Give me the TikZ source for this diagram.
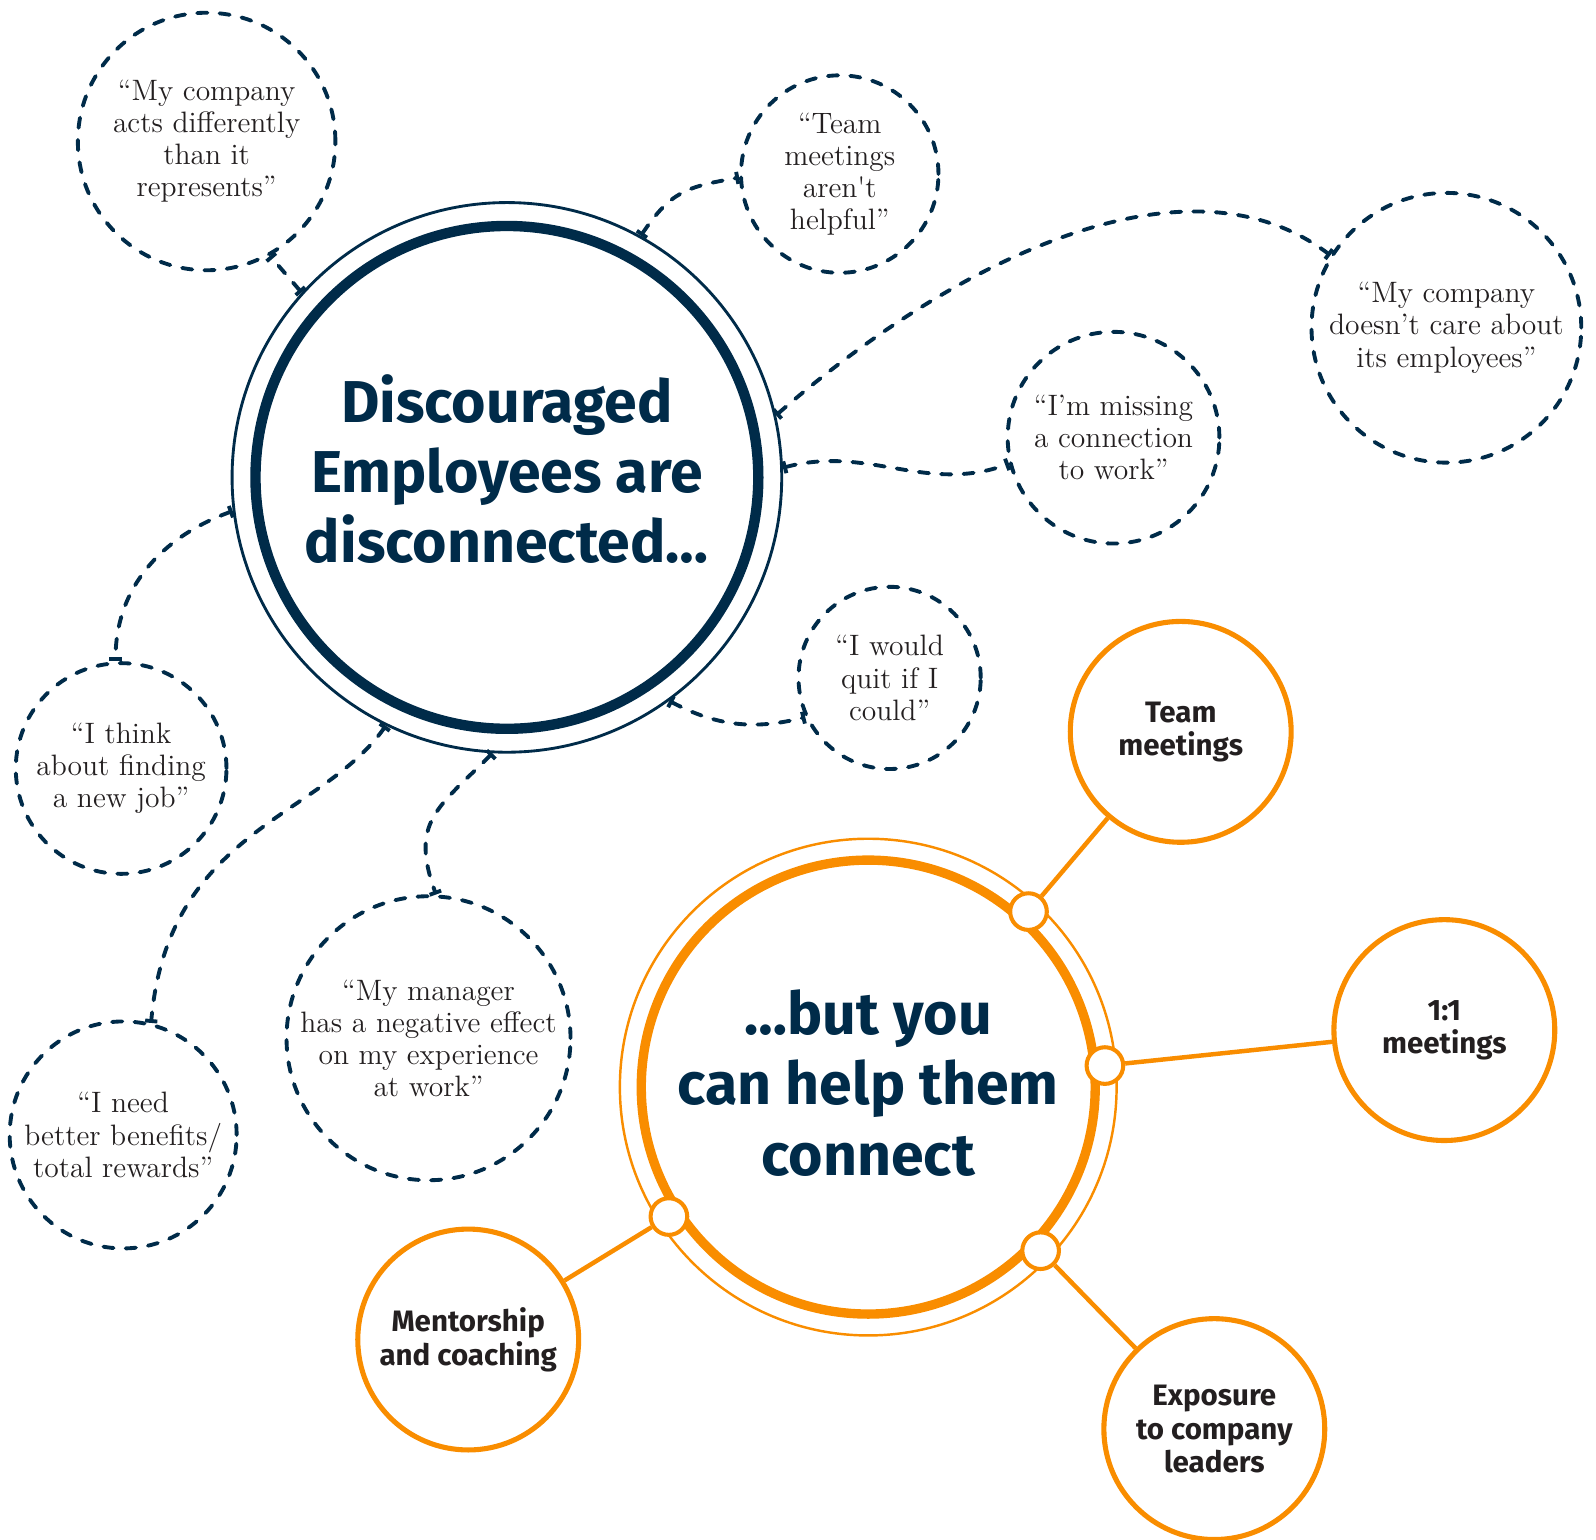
\documentclass[tikz,border=0pt]{standalone}
\usepackage{fontspec}
\newfontfamily\headfont{Fira Sans}
\usepackage{tikz}
\usetikzlibrary{arrows.meta}
\definecolor{navy}{HTML}{002B49}
\definecolor{tangerine}{HTML}{F98D00}
\definecolor{ink}{HTML}{231F20}
\tikzset{
        base/.style={circle, inner sep=-10pt, align=center},
        hub/.style={base, text=navy, font=\headfont\bfseries\fontsize{29}{34.5}\selectfont},
        discouter/.style={hub, draw=navy, line width=1.4pt, minimum size=270pt},
        discinner/.style={base, draw=navy, line width=5.1pt, minimum size=247pt},
        helpouter/.style={hub, draw=tangerine, line width=1.2pt, minimum size=244pt},
        helpinner/.style={base, draw=tangerine, line width=4.6pt, minimum size=223pt},
        quote/.style={base, draw=navy, line width=1.9pt, dash pattern=on 5pt off 6pt,
                      line cap=round, text=ink, font=\fontsize{14.5}{15.75}\selectfont},
        leaf/.style={base, draw=tangerine, line width=2.5pt, minimum size=108.5pt,
                     text=ink, font=\headfont\bfseries\fontsize{14.5}{16.5}\selectfont},
        joint/.style={circle, draw=tangerine, fill=white, line width=2pt,
                      minimum size=18pt, inner sep=0pt},
        quoteline/.style={draw=navy, line width=1.9pt, dash pattern=on 5pt off 6pt,
                          line cap=round, arrows={Bar[width=6pt]-Bar[width=6pt]}},
        leafline/.style={draw=tangerine, line width=2.2pt},
 }

\begin{document}
\begin{tikzpicture}[x=0.5pt, y=0.5pt]
    \useasboundingbox (0,0) rectangle (1568,-1512);

    % discouraged side
    \node[discouter] (disc) at (498,-469) {};
    \node[discinner] (discin) at (disc) {};
    \node[hub] (disctext) at ([yshift=4pt]disc.center) {Discouraged\\ Employees are\\ disconnected…};

    \node[quote, minimum size=126.5pt] (q1) at (203,-139) {“My company\\ acts differently\\ than it\\ represents”};
    \node[quote, minimum size=97pt] (q2) at (825,-171) {“Team\\ meetings\\ aren\textquotesingle t\\ helpful”};
    \node[quote, minimum size=132.5pt] (q3) at (1421,-322) {“My company\\ doesn’t care about\\ its employees”};
    \node[quote, minimum size=104pt] (q4) at (1094,-430) {“I’m missing\\ a connection\\ to work”};
    \node[quote, minimum size=89.5pt] (q5) at (874,-666) {“I would\\ quit if I\\ could”};
    \node[quote, minimum size=103.5pt] (q6) at (119,-755) {“I think\\ about finding\\ a new job”};
    \node[quote, minimum size=139.5pt] (q7) at (421,-1020) {“My manager\\ has a negative effect\\ on my experience\\ at work”};
    \node[quote, minimum size=111.5pt] (q8) at (121,-1115) {“I need\\ better benefits/\\ total rewards”};

    \draw[quoteline] (disc.138) -- (q1.-61);
    \draw[quoteline] (disc.61) to[out=56, in=190, looseness=1.2] (q2.182);
    \draw[quoteline] (disc.13) .. controls +(41:222) and +(143:182) .. (q3.148);
    \draw[quoteline] (disc.2) to[out=15, in=200] (q4.194);
    \draw[quoteline] (disc.-54) to[out=-28, in=194] (q5.205);
    \draw[quoteline] (disc.187) to[out=200, in=90] (q6.93);
    \draw[quoteline] (disc.267) to[out=225, in=110, looseness=1.3] (q7.87);
    \draw[quoteline] (disc.244) .. controls +(235:110) and +(85:190) .. (q8.76);

    % connect side
    \node[helpouter] (help) at (853,-1068) {};
    \node[helpinner] (helpin) at (help) {};
    \node[hub] (helptext) at ([yshift=2pt]help.center) {…but you\\ can help them\\ connect};

    \node[leaf] (team) at (1160,-719) {Team\\ meetings};
    \node[leaf] (oneone) at (1419,-1012) {1:1\\ meetings};
    \node[leaf] (expo) at (1193,-1404) {Exposure\\ to company\\ leaders};
    \node[leaf] (mentor) at (460,-1316) {Mentorship\\ and coaching};

    \node[joint] (j1) at ([shift={(47.6:233.5)}]help.center) {};
    \node[joint] (j2) at ([shift={(5.2:233.5)}]help.center) {};
    \node[joint] (j3) at ([shift={(-43.5:233.5)}]help.center) {};
    \node[joint] (j4) at ([shift={(213:233.5)}]help.center) {};

    \draw[leafline] (j1) -- (team);
    \draw[leafline] (j2) -- (oneone);
    \draw[leafline] (j3) -- (expo);
    \draw[leafline] (j4) -- (mentor);
\end{tikzpicture}
\end{document}
